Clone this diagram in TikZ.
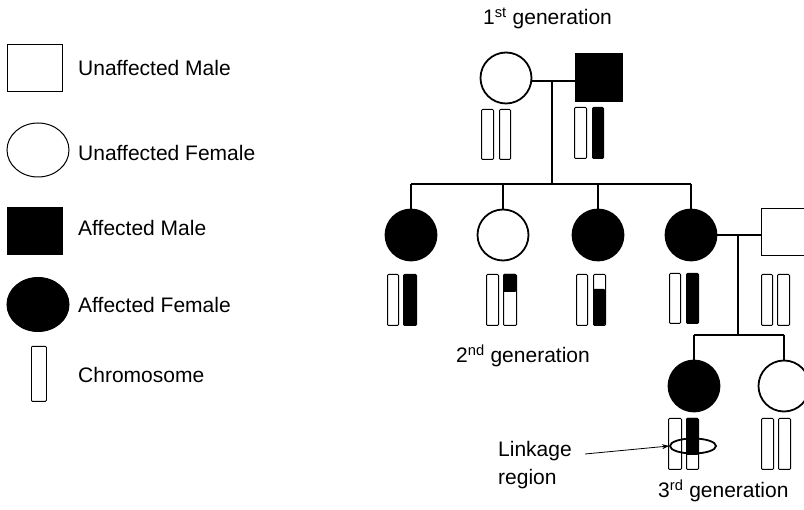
\documentclass[tikz,border=0pt]{standalone}
\usepackage{fontspec}
\setmainfont{Liberation Sans}
\usetikzlibrary{arrows.meta,shapes.geometric}
\tikzset{
  lbl/.style={font=\fontsize{21}{28}\selectfont, inner sep=0pt},
  keymale/.style={draw, line width=1pt, rectangle, minimum width=55pt, minimum height=47pt, inner sep=0pt},
  keyfemale/.style={draw, line width=1pt, ellipse, minimum width=62pt, minimum height=54pt, inner sep=0pt},
  male/.style={draw, line width=1.8pt, rectangle, minimum width=46pt, minimum height=47pt, inner sep=0pt},
  female/.style={draw, line width=1.8pt, circle, minimum size=51pt, inner sep=0pt},
  aff/.style={fill=black},
  unaff/.style={fill=white},
  chrom/.style={draw, line width=1pt, rectangle, rounded corners=1pt, minimum width=12pt,
                minimum height=51pt, inner sep=0pt, anchor=north west, fill=white},
  dark/.style={fill=black},
  rel/.style={line width=1.8pt},
}
\begin{document}
\begin{tikzpicture}[x=1pt,y=-1pt]
\useasboundingbox (0,0) rectangle (804,510);
\clip (0,0) rectangle (804,510);

% ---------- key ----------
\node[keymale, unaff]   (kum) at (34.5,68.5) {};
\node[keyfemale, unaff] (kuf) at (38,150) {};
\node[keymale, aff]     (kam) at (34.5,231) {};
\node[keyfemale, aff]   (kaf) at (38,304.5) {};
\node[chrom, line width=0.8pt, minimum width=15pt, minimum height=55pt] (kch) at (31,346) {};
\node[lbl, anchor=west] (tum) at (78,68)  {Unaffected Male};
\node[lbl, anchor=west] (tuf) at (78,153) {Unaffected Female};
\node[lbl, anchor=west] (tam) at (78,228) {Affected Male};
\node[lbl, anchor=west] (taf) at (78,305) {Affected Female};
\node[lbl, anchor=west] (tch) at (78,375) {Chromosome};

% ---------- first generation ----------
\node[lbl, anchor=base west] (g1) at (483,25) {1\textsuperscript{st} generation};
\node[female, unaff] (m1) at (506,78) {};
\node[male, aff]     (f1) at (599,77.5) {};
\coordinate (mar1) at (552,81);
\draw[rel] (m1.east |- mar1) -- (f1.west |- mar1);
\coordinate (sib1) at (552,184);
\draw[rel] (mar1) -- (sib1);

\node[chrom, minimum width=12pt, minimum height=50pt] (m1a) at (481,109) {};
\node[chrom, minimum width=11pt, minimum height=50pt] (m1b) at (499,109) {};
\node[chrom, minimum width=12pt] (f1a) at (574,107) {};
\node[chrom, dark, minimum width=11pt] (f1b) at (592,107) {};

% ---------- second generation ----------
\node[female, aff]   (d1) at (411,235) {};
\node[female, unaff] (d2) at (503,235) {};
\node[female, aff]   (d3) at (598,235) {};
\node[female, aff]   (d4) at (691,235) {};
\node[male, unaff]   (sp) at (784.5,232) {};

\draw[rel] (d1.north |- sib1) -- (d4.north |- sib1);
\foreach \c in {d1,d2,d3,d4} \draw[rel] (\c.north |- sib1) -- (\c.north);

\coordinate (mar2) at (738,235);
\draw[rel] (d4.east) -- (sp.west |- d4.east);
\coordinate (sib2) at (738,335);
\draw[rel] (mar2) -- (sib2);

% chromosomes, second generation
\node[chrom, minimum width=11pt] (d1a) at (387,274) {};
\node[chrom, dark, minimum width=13pt] (d1b) at (403,274) {};

\node[chrom, minimum width=12pt] (d2a) at (486,274) {};
\fill[rounded corners=1pt] (503,274) rectangle (516,292);
\node[chrom, fill=none, minimum width=13pt] (d2b) at (503,274) {};

\node[chrom, minimum width=11pt] (d3a) at (576,274) {};
\fill[rounded corners=1pt] (593,289) rectangle (605,325);
\node[chrom, fill=none, minimum width=12pt] (d3b) at (593,274) {};

\node[chrom, minimum width=11pt, minimum height=50pt] (d4a) at (669,273) {};
\node[chrom, dark, minimum width=12pt, minimum height=50pt] (d4b) at (686,273) {};

\node[chrom, minimum width=11pt] (spa) at (761,274) {};
\node[chrom, minimum width=12pt] (spb) at (777,274) {};

\node[lbl, anchor=base west] (g2) at (456,363) {2\textsuperscript{nd} generation};

% ---------- third generation ----------
\node[female, aff]   (e1) at (694,386) {};
\node[female, unaff] (e2) at (784,386) {};
\draw[rel] (e1.north |- sib2) -- (e2.north |- sib2);
\draw[rel] (e1.north |- sib2) -- (e1.north);
\draw[rel] (e2.north |- sib2) -- (e2.north);

\node[chrom, minimum width=13pt] (e1a) at (668,418) {};
\fill[rounded corners=1pt] (686,418) rectangle (698,455);
\node[chrom, fill=none, minimum width=12pt] (e1b) at (686,418) {};

\node[chrom, minimum width=12pt] (e2a) at (761,418) {};
\node[chrom, minimum width=12pt] (e2b) at (778,418) {};

% linkage region
\node[draw, ellipse, line width=1.8pt, minimum width=46pt, minimum height=15pt, inner sep=0pt] (link) at (693,446) {};
\node[lbl, anchor=base west] (tlk) at (498,457) {Linkage};
\node[lbl, anchor=base west] (trg) at (498,485) {region};
\coordinate (arrs) at (585,454);
\draw[line width=0.8pt, -{Stealth[length=7pt,width=5pt]}] (arrs) -- (link.west);

\node[lbl, anchor=base west] (g3) at (658,498) {3\textsuperscript{rd} generation};
\end{tikzpicture}
\end{document}
